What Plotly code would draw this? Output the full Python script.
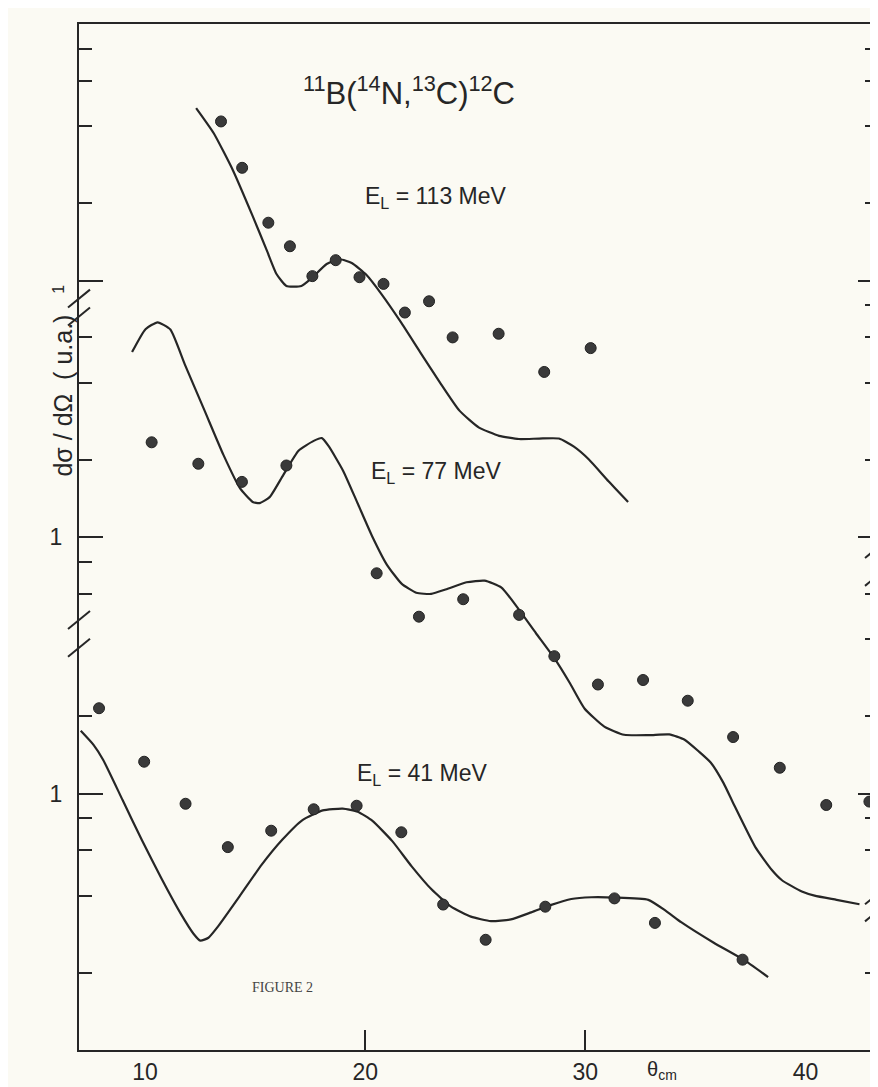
import math
import plotly.graph_objects as go

# ---------------- data (angles in degrees c.m., cross sections in arbitrary units) -------------
# E_L = 113 MeV
theta_113 = [13.45, 14.41, 15.60, 16.58, 17.60, 18.66, 19.74, 20.83, 21.80, 22.90, 23.97, 26.06, 28.13, 30.24]
sigma_113 = [4.17, 2.75, 1.68, 1.36, 1.04, 1.20, 1.03, 0.97, 0.75, 0.83, 0.60, 0.62, 0.44, 0.545]
fit_theta_113 = [12.32, 13.12, 14.00, 14.88, 15.53, 15.97, 16.42, 17.10, 17.56, 18.25, 18.85, 19.39, 20.06,
                 20.73, 21.62, 22.50, 23.39, 24.28, 25.17, 26.08, 26.98, 27.90, 28.80, 29.48, 30.15, 31.05, 31.94]
fit_113 = [4.70, 3.75, 2.68, 1.79, 1.31, 1.06, 0.952, 0.952, 1.02, 1.16, 1.21, 1.17, 1.05,
           0.887, 0.688, 0.525, 0.401, 0.311, 0.267, 0.248, 0.241, 0.242, 0.242, 0.225, 0.201, 0.165, 0.137]

# E_L = 77 MeV
theta_77 = [10.30, 12.42, 14.40, 16.42, 20.52, 22.44, 24.45, 26.99, 28.59, 30.57, 32.62, 34.65, 36.71,
            38.83, 40.94, 42.90]
sigma_77 = [2.34, 1.93, 1.64, 1.90, 0.722, 0.489, 0.572, 0.497, 0.343, 0.266, 0.277, 0.230, 0.166,
            0.126, 0.0902, 0.093]
fit_theta_77 = [9.41, 10.02, 10.57, 11.15, 11.81, 12.69, 13.56, 14.31, 14.89, 15.20, 15.66, 16.27, 16.97,
                17.66, 18.03, 18.34, 19.00, 19.66, 20.32, 20.98, 21.65, 22.32, 23.00, 23.69, 24.60, 25.42,
                26.19, 26.99, 27.75, 28.59, 29.30, 29.96, 30.86, 31.76, 32.90, 33.81, 34.49, 35.16, 35.70,
                36.27, 36.71, 37.72, 38.48, 38.93, 39.83, 40.41, 41.41, 42.45]
fit_77 = [5.26, 6.46, 6.87, 6.44, 4.70, 3.13, 2.09, 1.55, 1.37, 1.355, 1.43, 1.74, 2.17,
          2.37, 2.43, 2.26, 1.81, 1.35, 1.005, 0.781, 0.658, 0.606, 0.600, 0.626, 0.666, 0.676,
          0.635, 0.520, 0.4225, 0.337, 0.269, 0.2146, 0.1823, 0.1694, 0.1689, 0.170, 0.1624, 0.1456, 0.1318,
          0.110, 0.0919, 0.0618, 0.0502, 0.0459, 0.0415, 0.0400, 0.0385, 0.0370]

# E_L = 41 MeV
theta_41 = [7.91, 9.96, 11.84, 13.76, 15.73, 17.66, 19.61, 21.64, 23.54, 25.47, 28.18, 31.32, 33.16, 37.14]
sigma_41 = [2.15, 1.33, 0.912, 0.618, 0.716, 0.868, 0.896, 0.706, 0.369, 0.269, 0.362, 0.390, 0.313, 0.225]
fit_theta_41 = [7.08, 7.66, 8.10, 8.98, 9.86, 10.74, 11.62, 12.20, 12.51, 12.88, 13.30, 14.36, 15.30,
                16.23, 17.15, 18.07, 18.98, 19.66, 20.33, 21.23, 22.11, 23.01, 23.90, 24.80, 25.71, 26.62,
                27.54, 28.45, 29.36, 30.27, 31.32, 32.86, 33.67, 34.35, 35.83, 37.18, 38.30]
fit_41 = [1.755, 1.547, 1.351, 0.943, 0.657, 0.467, 0.340, 0.284, 0.267, 0.274, 0.302, 0.405, 0.528,
          0.660, 0.788, 0.859, 0.873, 0.849, 0.782, 0.652, 0.520, 0.423, 0.362, 0.331, 0.318, 0.323,
          0.344, 0.368, 0.388, 0.394, 0.393, 0.385, 0.348, 0.315, 0.262, 0.225, 0.1925]

# vertical offset (factor) of each curve on the shared log axis
offset_113 = 100
offset_77 = 10
offset_41 = 1

x_tick_labels = [10, 20, 30, 40]
x_tick_marks = [20, 30]
left_minor = [0.2, 0.4, 0.6, 0.8, 2, 6, 8, 20, 40, 60, 200, 400, 600, 800]
right_minor = [0.2, 0.6, 0.8, 2, 4, 6, 20, 40, 60, 80, 200, 400, 600, 800]
major_vals = [1, 10, 100]
left_breaks = [85, 72.4, 4.75, 3.70]
right_breaks = [8.98, 6.99, 0.401, 0.344]

# ---------------- styling ----------------
BG = "#fbfaf3"
INK = "#262626"
DOT = "#3a3a3a"
FONT = "Liberation Sans"

fig = go.Figure()

def scaled(vals, k):
    return [v * k for v in vals]

for th, fv, k in [(fit_theta_113, fit_113, offset_113),
                  (fit_theta_77, fit_77, offset_77),
                  (fit_theta_41, fit_41, offset_41)]:
    fig.add_trace(go.Scatter(x=th, y=scaled(fv, k), mode="lines",
                             line=dict(color=INK, width=2.2, shape="spline", smoothing=0.5),
                             hoverinfo="skip", showlegend=False, cliponaxis=False))

for th, sv, k in [(theta_113, sigma_113, offset_113),
                  (theta_77, sigma_77, offset_77),
                  (theta_41, sigma_41, offset_41)]:
    fig.add_trace(go.Scatter(x=th, y=scaled(sv, k), mode="markers",
                             marker=dict(size=11, color=DOT, line=dict(color="#222", width=1)),
                             showlegend=False, cliponaxis=False))

# invisible trace to activate the right-hand axis
fig.add_trace(go.Scatter(x=[20], y=[1], yaxis="y2", mode="markers",
                         marker=dict(opacity=0), hoverinfo="skip", showlegend=False))

XR = [7.0, 43.2]
YR = [-1, 3]

fig.update_layout(
    width=878, height=1087,
    margin=dict(l=71, r=10, t=16, b=43),
    paper_bgcolor=BG, plot_bgcolor=BG,
    font=dict(family=FONT, color=INK),
    xaxis=dict(range=XR, showgrid=False, zeroline=False,
               showline=True, linecolor=INK, linewidth=2, mirror=True,
               tickmode="array", tickvals=x_tick_labels, ticktext=[str(v) for v in x_tick_labels],
               ticks="", tickfont=dict(size=23, color=INK, family=FONT),
               minor=dict(tickmode="array", tickvals=x_tick_marks, ticks="inside",
                          ticklen=20, tickwidth=1.5, tickcolor=INK, showgrid=False)),
    yaxis=dict(type="log", range=YR, showgrid=False, zeroline=False,
               showline=True, linecolor=INK, linewidth=2, mirror=False,
               tickmode="array", tickvals=major_vals, ticktext=["1", "1", ""],
               ticks="inside", ticklen=24, tickwidth=2, tickcolor=INK,
               ticklabelstandoff=10,
               tickfont=dict(size=23, color=INK, family=FONT),
               minor=dict(tickmode="array", tickvals=left_minor, ticks="inside",
                          ticklen=13, tickwidth=2, tickcolor=INK, showgrid=False)),
    yaxis2=dict(type="log", range=YR, overlaying="y", side="right", anchor="x",
                showgrid=False, zeroline=False, showline=True, linecolor=INK, linewidth=2,
                tickmode="array", tickvals=major_vals, showticklabels=False,
                ticks="inside", ticklen=18, tickwidth=2, tickcolor=INK,
                minor=dict(tickmode="array", tickvals=right_minor, ticks="inside",
                           ticklen=11, tickwidth=2, tickcolor=INK, showgrid=False)),
)

# ---------------- annotations ----------------
ann = []
ann.append(dict(x=22.0, y=2.74, xref="x", yref="y",
                text="<sup>11</sup>B(<sup>14</sup>N,<sup>13</sup>C)<sup>12</sup>C",
                showarrow=False, font=dict(size=31, family=FONT, color=INK)))
ann.append(dict(x=23.2, y=math.log10(210), xref="x", yref="y",
                text="E<sub>L</sub> = 113 MeV", showarrow=False,
                font=dict(size=23, family=FONT, color=INK)))
ann.append(dict(x=23.2, y=math.log10(17.9), xref="x", yref="y",
                text="E<sub>L</sub> = 77 MeV", showarrow=False,
                font=dict(size=23, family=FONT, color=INK)))
ann.append(dict(x=22.6, y=math.log10(1.19), xref="x", yref="y",
                text="E<sub>L</sub> = 41 MeV", showarrow=False,
                font=dict(size=23, family=FONT, color=INK)))
ann.append(dict(x=14.75, y=math.log10(0.176), xref="x", yref="y", xanchor="left",
                text="FIGURE 2", showarrow=False,
                font=dict(size=14, family="Liberation Serif", color="#444")))
ann.append(dict(x=0.753, y=-0.034, xref="paper", yref="paper",
                text="θ<sub>cm</sub>", showarrow=False, yanchor="bottom",
                font=dict(size=20, family=FONT, color=INK)))
ann.append(dict(x=-0.040, y=0.638, xref="paper", yref="paper", textangle=-90,
                text="dσ / dΩ  ( u.a.)", showarrow=False,
                font=dict(size=25, family=FONT, color=INK)))
ann.append(dict(x=-0.040, y=0.748, xref="paper", yref="paper", textangle=-90,
                text="1", showarrow=False, font=dict(size=16, family=FONT, color=INK)))
fig.update_layout(annotations=ann)

# axis-break marks (double slashes)
def ypaper(v):
    return (math.log10(v) - YR[0]) / (YR[1] - YR[0])

dxp = 11 / 797
dyp = 9 / 1028
shapes = []
for xp, vals in [(0.0, left_breaks), (1.0, right_breaks)]:
    for v in vals:
        yp = ypaper(v)
        shapes.append(dict(type="line", xref="paper", yref="paper",
                           x0=xp - dxp, y0=yp - dyp, x1=xp + dxp, y1=yp + dyp,
                           line=dict(color=INK, width=2)))
fig.update_layout(shapes=shapes)

fig.write_html("out.html")
